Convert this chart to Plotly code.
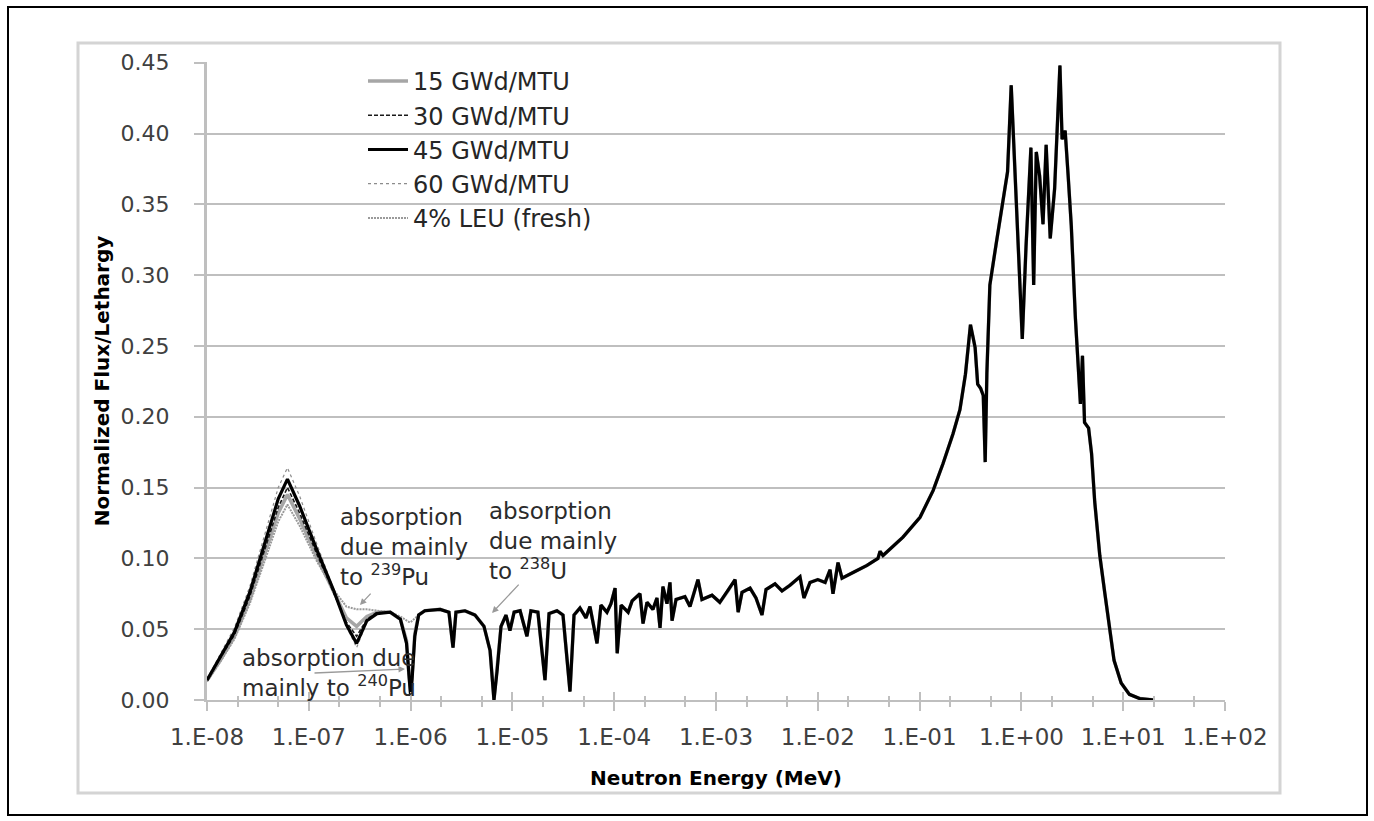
import math
import plotly.graph_objects as go

# ---------------- data ----------------
# thermal region (MeV) – series differ here
thermal_E = [1.00e-8, 1.35e-8, 1.86e-8, 2.63e-8, 3.72e-8, 5.01e-8, 6.17e-8, 8.13e-8,
             1.20e-7, 1.74e-7, 2.34e-7, 2.95e-7, 3.72e-7, 4.68e-7, 6.31e-7, 7.94e-7,
             9.12e-7, 9.66e-7, 1.00e-6, 1.035e-6, 1.10e-6, 1.20e-6]
thermal_15 = [0.014, 0.028, 0.045, 0.071, 0.104, 0.132, 0.145, 0.128, 0.101, 0.077, 0.058,
              0.052, 0.059, 0.062, 0.062, 0.057, 0.042, 0.016, 0.006, 0.018, 0.047, 0.060]
thermal_30 = [0.014, 0.029, 0.046, 0.073, 0.107, 0.136, 0.150, 0.132, 0.103, 0.077, 0.055,
              0.045, 0.057, 0.062, 0.062, 0.057, 0.041, 0.014, 0.004, 0.016, 0.046, 0.060]
thermal_45 = [0.014, 0.030, 0.048, 0.076, 0.112, 0.142, 0.156, 0.137, 0.106, 0.078, 0.053,
              0.040, 0.056, 0.061, 0.062, 0.057, 0.040, 0.012, 0.003, 0.015, 0.045, 0.060]
thermal_60 = [0.015, 0.032, 0.051, 0.080, 0.118, 0.150, 0.164, 0.144, 0.110, 0.079, 0.052,
              0.037, 0.055, 0.061, 0.062, 0.057, 0.040, 0.012, 0.002, 0.014, 0.045, 0.060]
thermal_fresh = [0.013, 0.027, 0.043, 0.068, 0.099, 0.126, 0.138, 0.123, 0.098, 0.078, 0.066,
                 0.064, 0.064, 0.063, 0.062, 0.059, 0.056, 0.055, 0.055, 0.056, 0.058, 0.060]

# epithermal + fast region (MeV) – common to all series
common_E = [1.38e-6, 1.95e-6, 2.38e-6, 2.61e-6, 2.79e-6, 3.42e-6, 4.29e-6, 5.26e-6, 6.03e-6,
            6.59e-6, 7.06e-6, 7.73e-6, 8.65e-6, 9.46e-6, 1.04e-5, 1.19e-5, 1.39e-5, 1.52e-5,
            1.78e-5, 2.09e-5, 2.29e-5, 2.74e-5, 3.14e-5, 3.68e-5, 4.03e-5, 4.61e-5, 5.28e-5,
            5.78e-5, 6.78e-5, 7.41e-5, 8.49e-5, 9.30e-5, 1.02e-4, 1.07e-4, 1.17e-4, 1.37e-4,
            1.50e-4, 1.79e-4, 1.92e-4, 2.10e-4, 2.40e-4, 2.63e-4, 2.82e-4, 3.01e-4, 3.30e-4,
            3.53e-4, 3.70e-4, 4.05e-4, 4.95e-4, 5.55e-4, 6.65e-4, 7.28e-4, 9.14e-4, 1.09e-3,
            1.31e-3, 1.54e-3, 1.65e-3, 1.80e-3, 2.16e-3, 2.47e-3, 2.83e-3, 3.10e-3, 3.80e-3,
            4.45e-3, 5.33e-3, 6.68e-3, 7.31e-3, 8.38e-3, 1.00e-2, 1.18e-2, 1.32e-2, 1.41e-2,
            1.58e-2, 1.73e-2, 2.22e-2, 3.04e-2, 3.90e-2, 4.09e-2, 4.37e-2, 6.87e-2, 1.01e-1,
            1.36e-1, 1.70e-1, 2.13e-1, 2.49e-1, 2.82e-1, 3.16e-1, 3.51e-1, 3.72e-1, 3.98e-1,
            4.22e-1, 4.41e-1, 4.58e-1, 4.90e-1, 5.62e-1, 6.53e-1, 7.31e-1, 7.94e-1, 8.55e-1,
            9.23e-1, 1.02, 1.11, 1.24, 1.32, 1.40, 1.51, 1.63, 1.75, 1.92, 2.12, 2.39, 2.51,
            2.69, 2.88, 3.09, 3.39, 3.61, 3.80, 3.98, 4.17, 4.57, 4.89, 5.25, 5.89, 6.61,
            7.41, 8.13, 9.55, 11.5, 14.5, 20.4]
common_flux = [0.063, 0.064, 0.062, 0.037, 0.062, 0.063, 0.060, 0.052, 0.035,
               0.000, 0.020, 0.052, 0.060, 0.049, 0.062, 0.063, 0.045, 0.063,
               0.062, 0.014, 0.061, 0.063, 0.060, 0.006, 0.060, 0.065, 0.058,
               0.066, 0.040, 0.067, 0.062, 0.068, 0.079, 0.033, 0.067, 0.062,
               0.070, 0.075, 0.054, 0.069, 0.064, 0.072, 0.051, 0.080, 0.068,
               0.083, 0.056, 0.071, 0.073, 0.066, 0.085, 0.071, 0.074, 0.069,
               0.077, 0.085, 0.062, 0.076, 0.079, 0.072, 0.060, 0.078, 0.082,
               0.077, 0.081, 0.087, 0.072, 0.083, 0.085, 0.083, 0.092, 0.075,
               0.097, 0.086, 0.090, 0.095, 0.100, 0.105, 0.102, 0.115, 0.129,
               0.148, 0.167, 0.188, 0.205, 0.230, 0.265, 0.249, 0.223, 0.220,
               0.215, 0.168, 0.231, 0.293, 0.321, 0.349, 0.373, 0.434, 0.382,
               0.322, 0.255, 0.320, 0.390, 0.293, 0.387, 0.370, 0.336, 0.392, 0.326, 0.361, 0.448, 0.396,
               0.402, 0.370, 0.335, 0.270, 0.236, 0.209, 0.243, 0.196, 0.192, 0.174, 0.140, 0.102, 0.075,
               0.050, 0.028, 0.012, 0.004, 0.001, 0.000]

series_names = ["15 GWd/MTU", "30 GWd/MTU", "45 GWd/MTU", "60 GWd/MTU", "4% LEU (fresh)"]
thermal_sets = [thermal_15, thermal_30, thermal_45, thermal_60, thermal_fresh]

x_tickvals = [1e-8, 1e-7, 1e-6, 1e-5, 1e-4, 1e-3, 1e-2, 1e-1, 1e0, 1e1, 1e2]
x_ticktext = ["1.E-08", "1.E-07", "1.E-06", "1.E-05", "1.E-04", "1.E-03",
              "1.E-02", "1.E-01", "1.E+00", "1.E+01", "1.E+02"]

# ---------------- styles ----------------
styles = [
    dict(color="#a6a6a6", width=3.5, dash="solid"),
    dict(color="#1a1a1a", width=1.6, dash="4px,2px"),
    dict(color="#000000", width=3.2, dash="solid"),
    dict(color="#8c8c8c", width=1.2, dash="dot"),
    dict(color="#9a9a9a", width=2, dash="2px,1px"),
]
draw_order = [0, 1, 3, 4, 2]   # black 45 GWd/MTU drawn last (on top)

FONT = "DejaVu Sans"
GRID = "#bfbfbf"

fig = go.Figure()
for i in draw_order:
    st = styles[i]
    fig.add_trace(go.Scatter(
        x=thermal_E + common_E, y=thermal_sets[i] + common_flux, mode="lines",
        name=series_names[i], legendrank=i + 1,
        line=dict(color=st["color"], width=st["width"], dash=st["dash"]),
        hoverinfo="skip"))

# overlay axis for inward half of crossing ticks
fig.add_trace(go.Scatter(x=[1e-8], y=[0], xaxis="x2", mode="markers",
                         marker=dict(opacity=0), showlegend=False, hoverinfo="skip"))

L = math.log10
annotations = [
    dict(x=L(1.94e-7), y=0.108, xref="x", yref="y", xanchor="left", yanchor="middle",
         align="left", showarrow=False,
         text="absorption<br>due mainly<br>to <sup>239</sup>Pu"),
    dict(x=L(5.64e-6), y=0.112, xref="x", yref="y", xanchor="left", yanchor="middle",
         align="left", showarrow=False,
         text="absorption<br>due mainly<br>to <sup>238</sup>U"),
    dict(x=L(2.11e-8), y=0.019, xref="x", yref="y", xanchor="left", yanchor="middle",
         align="left", showarrow=False,
         text="absorption due<br>mainly to <sup>240</sup>Pu"),
]
for a in annotations:
    a["font"] = dict(family=FONT, size=23, color="#2b2b2b")

arrows = [
    ((L(3.18e-7), 0.067), (L(4.18e-7), 0.0762)),
    ((L(6.31e-6), 0.0614), (L(1.19e-5), 0.0825)),
    ((L(8.81e-7), 0.0219), (L(1.10e-7), 0.019)),
]
for (hx, hy), (tx, ty) in arrows:
    annotations.append(dict(x=hx, y=hy, ax=tx, ay=ty, xref="x", yref="y",
                            axref="x", ayref="y", text="", showarrow=True,
                            arrowhead=2, arrowsize=1, arrowwidth=1.3,
                            arrowcolor="#9a9a9a"))

def px_to_paper_x(p):
    return (p - 207) / 1018.0

def px_to_paper_y(p):
    return (700 - p) / 638.0

shapes = [
    dict(type="rect", xref="paper", yref="paper",
         x0=px_to_paper_x(8), x1=px_to_paper_x(1367), y0=px_to_paper_y(815), y1=px_to_paper_y(7),
         line=dict(color="#000000", width=2), layer="below"),
    dict(type="rect", xref="paper", yref="paper",
         x0=px_to_paper_x(78), x1=px_to_paper_x(1280), y0=px_to_paper_y(793), y1=px_to_paper_y(43),
         line=dict(color="#d4d4d4", width=3), layer="below"),
]

fig.update_layout(
    width=1374, height=821,
    margin=dict(l=207, r=149, t=62, b=121),
    paper_bgcolor="white", plot_bgcolor="white",
    font=dict(family=FONT, size=22, color="#404040"),
    showlegend=True,
    legend=dict(x=px_to_paper_x(363), y=px_to_paper_y(59), xanchor="left", yanchor="top",
                bgcolor="rgba(0,0,0,0)", borderwidth=0, itemwidth=40,
                font=dict(family=FONT, size=24, color="#262626"), tracegroupgap=0),
    xaxis=dict(type="log", range=[-8, 2], tickvals=x_tickvals, ticktext=x_ticktext,
               showgrid=False, zeroline=False, showline=True, linecolor=GRID, linewidth=2,
               ticks="outside", ticklen=9, tickwidth=2, tickcolor=GRID,
               minor=dict(ticks="outside", ticklen=5, tickwidth=1.5, tickcolor=GRID, showgrid=False),
               tickfont=dict(family=FONT, size=23, color="#404040"),
               ticklabelstandoff=6,
               title=dict(text="<b>Neutron Energy (MeV)</b>", standoff=22,
                          font=dict(family=FONT, size=20, color="#000000"))),
    xaxis2=dict(type="log", range=[-8, 2], overlaying="x", anchor="y", side="bottom",
                tickvals=x_tickvals, showticklabels=False, showgrid=False, zeroline=False,
                ticks="inside", ticklen=8, tickwidth=2, tickcolor=GRID,
                minor=dict(ticks="inside", ticklen=4, tickwidth=1.5, tickcolor=GRID, showgrid=False)),
    yaxis=dict(range=[0, 0.4505], dtick=0.05, tickformat=".2f",
               showgrid=True, gridcolor=GRID, gridwidth=2,
               zeroline=False, showline=True, linecolor=GRID, linewidth=3,
               ticks="outside", ticklen=10, tickwidth=2, tickcolor=GRID,
               ticklabelstandoff=20,
               tickfont=dict(family=FONT, size=22, color="#404040"),
               title=dict(text="<b>Normalized Flux/Lethargy</b>", standoff=6,
                          font=dict(family=FONT, size=20, color="#000000"))),
    annotations=annotations,
    shapes=shapes,
)

fig.write_html("out.html")
